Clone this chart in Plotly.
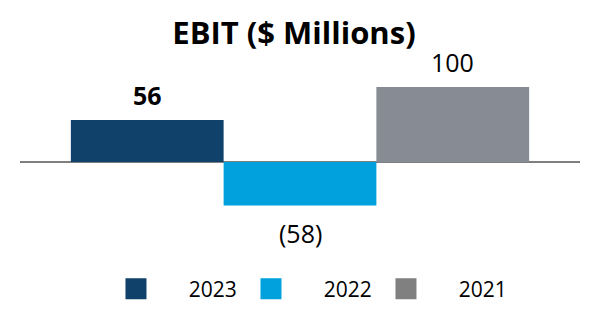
import plotly.graph_objects as go

years = ["2023", "2022", "2021"]
ebit = [56, -58, 100]
bar_colors = ["#0f416a", "#00a1dc", "#878c94"]
legend_colors = ["#0f416a", "#00a1dc", "#808080"]
label_bold = [True, False, False]

FONT = "Open Sans"

def fmt(v):
    return f"({abs(v)})" if v < 0 else f"{v}"

fig = go.Figure()
for i, (yr, v, c) in enumerate(zip(years, ebit, bar_colors)):
    fig.add_trace(go.Bar(x=[i], y=[v], width=1, marker=dict(color=c, line=dict(width=0)),
                         showlegend=False, hoverinfo="skip"))
for yr, c in zip(years, legend_colors):
    fig.add_trace(go.Scatter(x=[None], y=[None], mode="markers", name="\u00a0\u00a0\u00a0\u00a0\u00a0\u00a0" + yr,
                             marker=dict(symbol="square", size=16, color=c, line=dict(width=5, color=c)),
                             showlegend=True))

annotations = []
for i, (yr, v, b) in enumerate(zip(years, ebit, label_bold)):
    txt = fmt(v)
    if b:
        txt = f"<b>{txt}</b>"
    annotations.append(dict(x=i, y=v, text=txt, showarrow=False, xref="x", yref="y",
                            yanchor="bottom" if v >= 0 else "top",
                            yshift=6 if v >= 0 else -8,
                            font=dict(family=FONT, size=25, color="#000000")))

fig.update_layout(
    width=600, height=328,
    margin=dict(l=20, r=20, t=60, b=100),
    paper_bgcolor="white", plot_bgcolor="white",
    barmode="overlay",
    title=dict(text="<b>EBIT ($ Millions)</b>", x=0.49, xanchor="center", y=1 - 33 / 328,
               yanchor="middle", yref="container",
               font=dict(family=FONT, size=31, color="#000000")),
    xaxis=dict(range=[-0.833, 2.833], showticklabels=False, showgrid=False, zeroline=False,
               showline=False, ticks=""),
    yaxis=dict(range=[-88, 136], showticklabels=False, showgrid=False, zeroline=True,
               zerolinecolor="#7f7f7f", zerolinewidth=2, showline=False, ticks=""),
    legend=dict(orientation="h", x=0.533, xanchor="center", y=1 - 289 / 328, yanchor="middle",
                yref="container", font=dict(family=FONT, size=21, color="#000000"),
                entrywidth=90, entrywidthmode="pixels", itemclick=False),
    annotations=annotations,
    font=dict(family=FONT),
)

fig.write_html("out.html")
